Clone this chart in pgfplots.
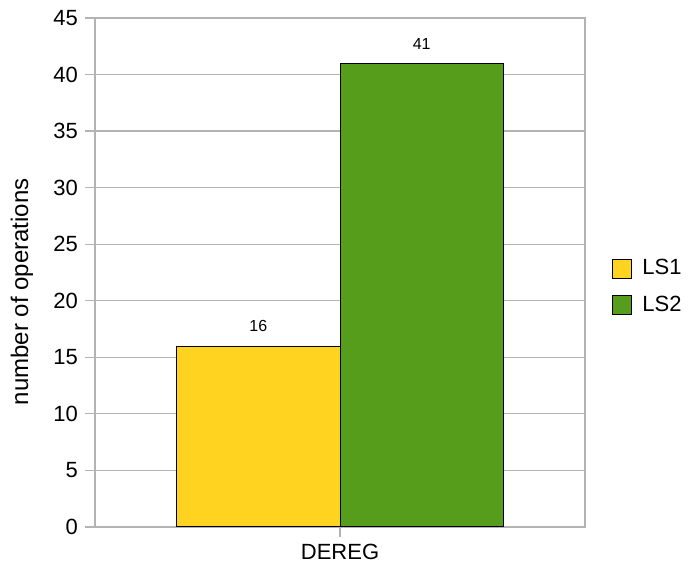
\documentclass[border=0pt]{standalone}
\usepackage{pgfplots}
\pgfplotsset{compat=1.18}
\usepackage{fontspec}
\setmainfont{Liberation Sans}
\definecolor{lsyellow}{HTML}{FFD320}
\definecolor{lsgreen}{HTML}{579D1C}
\definecolor{gridgray}{HTML}{B3B3B3}
\begin{document}
\begin{tikzpicture}
\begin{axis}[
  name=ax,
  scale only axis,
  width=245pt, height=254.5pt,
  xmin=-1.5, xmax=1.5,
  ymin=0, ymax=45,
  ytick={0,5,...,45},
  xtick={0}, xticklabels={DEREG},
  ytick pos=left, xtick pos=bottom,
  tick align=outside,
  major tick length=5pt,
  tick style={gridgray, line width=0.6pt},
  axis line style={gridgray, line width=0.6pt},
  ymajorgrids,
  grid style={gridgray, line width=0.6pt},
  ticklabel style={font=\fontsize{11}{13}\selectfont, black},
  /pgf/number format/assume math mode=true,
  ylabel={number of operations},
  ylabel style={font=\fontsize{12}{14}\selectfont, at={(axis description cs:-0.149,0.462)}, anchor=center},
  ybar, bar width=1,
  bar shift=0pt,
  nodes near coords,
  every node near coord/.append style={font=\fontsize{8}{9}\selectfont, black, yshift=3.5pt},
  legend style={draw=none, fill=none, at={(axis description cs:1.043,0.4715)}, anchor=west,
    font=\fontsize{11}{13}\selectfont, row sep=5pt,
    /tikz/every odd column/.append style={column sep=3pt}},
  legend cell align=left,
  legend image code/.code={\draw[#1,draw=black,line width=0.5pt] (0pt,-4.7pt) rectangle (9.5pt,4.7pt);},
]
\addplot[fill=lsyellow, draw=black, line width=0.5pt] coordinates {(-0.5,16)};
\addlegendentry{LS1}
\addplot[fill=lsgreen, draw=black, line width=0.5pt] coordinates {(0.5,41)};
\addlegendentry{LS2}
\end{axis}
\pgfresetboundingbox
\path[use as bounding box] ([xshift=-47.5pt,yshift=-24pt]ax.south west) rectangle ([xshift=51.5pt,yshift=9pt]ax.north east);
\end{tikzpicture}
\end{document}
